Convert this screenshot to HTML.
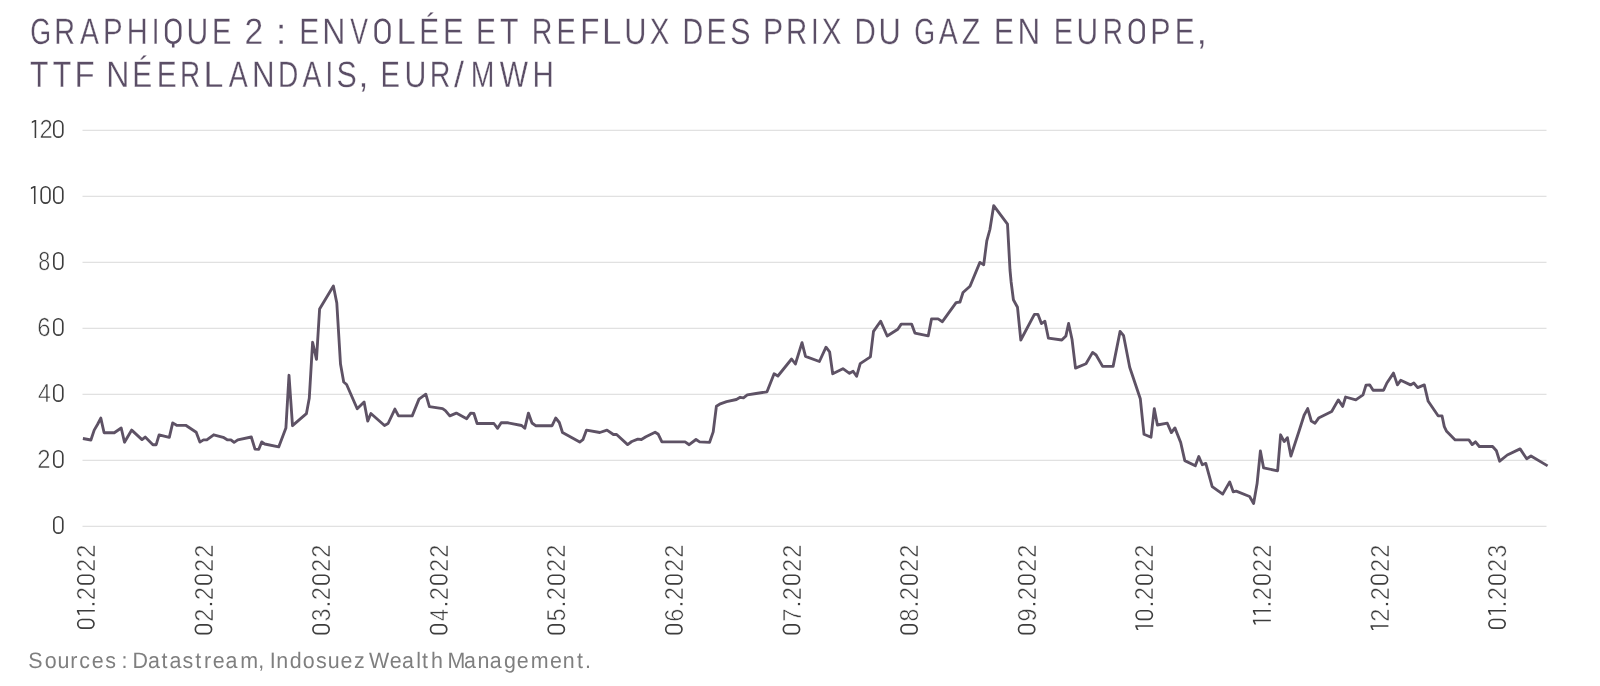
<!DOCTYPE html>
<html><head><meta charset="utf-8"><style>
html,body{margin:0;padding:0;background:#fff;}
svg{display:block;font-family:"Liberation Sans",sans-serif;text-rendering:geometricPrecision;will-change:transform;}
</style></head><body>
<svg width="1600" height="686" viewBox="0 0 1600 686">
<rect width="1600" height="686" fill="#fff"/>
<text transform="translate(30.25,43.7) scale(0.732,1)" font-size="36.6" fill="#5b4e66" stroke="#fff" stroke-width="0.3">G</text><text transform="translate(54.14,43.7) scale(0.787,1)" font-size="36.6" fill="#5b4e66" stroke="#fff" stroke-width="0.3">R</text><text transform="translate(80.04,43.7) scale(0.775,1)" font-size="36.6" fill="#5b4e66" stroke="#fff" stroke-width="0.3">A</text><text transform="translate(103.08,43.7) scale(0.806,1)" font-size="36.6" fill="#5b4e66" stroke="#fff" stroke-width="0.3">P</text><text transform="translate(126.72,43.7) scale(0.792,1)" font-size="36.6" fill="#5b4e66" stroke="#fff" stroke-width="0.3">H</text><text transform="translate(151.73,43.7) scale(0.762,1)" font-size="36.6" fill="#5b4e66" stroke="#fff" stroke-width="0.3">I</text><rect x="166.18" y="19.78" width="14.05" height="23.05" rx="7.02" ry="7.02" fill="none" stroke="#5b4e66" stroke-width="2.55"/><rect x="171.92" y="43.20" width="2.55" height="4.3" fill="#5b4e66"/><text transform="translate(186.58,43.7) scale(0.823,1)" font-size="36.6" fill="#5b4e66" stroke="#fff" stroke-width="0.3">U</text><text transform="translate(211.91,43.7) scale(0.796,1)" font-size="36.6" fill="#5b4e66" stroke="#fff" stroke-width="0.3">E</text><text transform="translate(244.51,43.7) scale(0.918,1)" font-size="36.6" fill="#5b4e66" stroke="#fff" stroke-width="0.3">2</text><text transform="translate(275.86,43.7) scale(1.050,1)" font-size="36.6" fill="#5b4e66" stroke="#fff" stroke-width="0.3">:</text><text transform="translate(299.35,43.7) scale(0.817,1)" font-size="36.6" fill="#5b4e66" stroke="#fff" stroke-width="0.3">E</text><text transform="translate(322.37,43.7) scale(0.876,1)" font-size="36.6" fill="#5b4e66" stroke="#fff" stroke-width="0.3">N</text><text transform="translate(350.28,43.7) scale(0.726,1)" font-size="36.6" fill="#5b4e66" stroke="#fff" stroke-width="0.3">V</text><rect x="375.67" y="19.78" width="13.65" height="23.05" rx="6.83" ry="6.83" fill="none" stroke="#5b4e66" stroke-width="2.55"/><text transform="translate(396.55,43.7) scale(0.948,1)" font-size="36.6" fill="#5b4e66" stroke="#fff" stroke-width="0.3">L</text><text transform="translate(419.16,43.7) scale(0.812,1)" font-size="36.6" fill="#5b4e66" stroke="#fff" stroke-width="0.3">É</text><text transform="translate(443.09,43.7) scale(0.837,1)" font-size="36.6" fill="#5b4e66" stroke="#fff" stroke-width="0.3">E</text><text transform="translate(475.95,43.7) scale(0.817,1)" font-size="36.6" fill="#5b4e66" stroke="#fff" stroke-width="0.3">E</text><text transform="translate(500.02,43.7) scale(0.826,1)" font-size="36.6" fill="#5b4e66" stroke="#fff" stroke-width="0.3">T</text><text transform="translate(531.65,43.7) scale(0.782,1)" font-size="36.6" fill="#5b4e66" stroke="#fff" stroke-width="0.3">R</text><text transform="translate(556.52,43.7) scale(0.791,1)" font-size="36.6" fill="#5b4e66" stroke="#fff" stroke-width="0.3">E</text><text transform="translate(580.33,43.7) scale(0.855,1)" font-size="36.6" fill="#5b4e66" stroke="#fff" stroke-width="0.3">F</text><text transform="translate(601.95,43.7) scale(0.948,1)" font-size="36.6" fill="#5b4e66" stroke="#fff" stroke-width="0.3">L</text><text transform="translate(624.32,43.7) scale(0.842,1)" font-size="36.6" fill="#5b4e66" stroke="#fff" stroke-width="0.3">U</text><text transform="translate(649.64,43.7) scale(0.806,1)" font-size="36.6" fill="#5b4e66" stroke="#fff" stroke-width="0.3">X</text><text transform="translate(682.55,43.7) scale(0.784,1)" font-size="36.6" fill="#5b4e66" stroke="#fff" stroke-width="0.3">D</text><text transform="translate(706.45,43.7) scale(0.817,1)" font-size="36.6" fill="#5b4e66" stroke="#fff" stroke-width="0.3">E</text><text transform="translate(730.32,43.7) scale(0.831,1)" font-size="36.6" fill="#5b4e66" stroke="#fff" stroke-width="0.3">S</text><text transform="translate(762.92,43.7) scale(0.827,1)" font-size="36.6" fill="#5b4e66" stroke="#fff" stroke-width="0.3">P</text><text transform="translate(786.08,43.7) scale(0.805,1)" font-size="36.6" fill="#5b4e66" stroke="#fff" stroke-width="0.3">R</text><text transform="translate(811.03,43.7) scale(0.762,1)" font-size="36.6" fill="#5b4e66" stroke="#fff" stroke-width="0.3">I</text><text transform="translate(821.64,43.7) scale(0.806,1)" font-size="36.6" fill="#5b4e66" stroke="#fff" stroke-width="0.3">X</text><text transform="translate(854.48,43.7) scale(0.807,1)" font-size="36.6" fill="#5b4e66" stroke="#fff" stroke-width="0.3">D</text><text transform="translate(878.52,43.7) scale(0.842,1)" font-size="36.6" fill="#5b4e66" stroke="#fff" stroke-width="0.3">U</text><text transform="translate(914.15,43.7) scale(0.732,1)" font-size="36.6" fill="#5b4e66" stroke="#fff" stroke-width="0.3">G</text><text transform="translate(938.64,43.7) scale(0.779,1)" font-size="36.6" fill="#5b4e66" stroke="#fff" stroke-width="0.3">A</text><text transform="translate(961.84,43.7) scale(0.828,1)" font-size="36.6" fill="#5b4e66" stroke="#fff" stroke-width="0.3">Z</text><text transform="translate(994.05,43.7) scale(0.817,1)" font-size="36.6" fill="#5b4e66" stroke="#fff" stroke-width="0.3">E</text><text transform="translate(1017.53,43.7) scale(0.856,1)" font-size="36.6" fill="#5b4e66" stroke="#fff" stroke-width="0.3">N</text><text transform="translate(1053.71,43.7) scale(0.796,1)" font-size="36.6" fill="#5b4e66" stroke="#fff" stroke-width="0.3">E</text><text transform="translate(1076.59,43.7) scale(0.818,1)" font-size="36.6" fill="#5b4e66" stroke="#fff" stroke-width="0.3">U</text><text transform="translate(1102.81,43.7) scale(0.764,1)" font-size="36.6" fill="#5b4e66" stroke="#fff" stroke-width="0.3">R</text><rect x="1129.98" y="19.78" width="13.65" height="23.05" rx="6.83" ry="6.83" fill="none" stroke="#5b4e66" stroke-width="2.55"/><text transform="translate(1150.30,43.7) scale(0.832,1)" font-size="36.6" fill="#5b4e66" stroke="#fff" stroke-width="0.3">P</text><text transform="translate(1174.86,43.7) scale(0.812,1)" font-size="36.6" fill="#5b4e66" stroke="#fff" stroke-width="0.3">E</text><text transform="translate(1196.41,43.7) scale(1.030,1)" font-size="36.6" fill="#5b4e66" stroke="#fff" stroke-width="0.3">,</text><text transform="translate(30.02,86.7) scale(0.821,1)" font-size="36.6" fill="#5b4e66" stroke="#fff" stroke-width="0.3">T</text><text transform="translate(52.72,86.7) scale(0.826,1)" font-size="36.6" fill="#5b4e66" stroke="#fff" stroke-width="0.3">T</text><text transform="translate(74.40,86.7) scale(0.900,1)" font-size="36.6" fill="#5b4e66" stroke="#fff" stroke-width="0.3">F</text><text transform="translate(106.37,86.7) scale(0.876,1)" font-size="36.6" fill="#5b4e66" stroke="#fff" stroke-width="0.3">N</text><text transform="translate(132.35,86.7) scale(0.817,1)" font-size="36.6" fill="#5b4e66" stroke="#fff" stroke-width="0.3">É</text><text transform="translate(156.75,86.7) scale(0.817,1)" font-size="36.6" fill="#5b4e66" stroke="#fff" stroke-width="0.3">E</text><text transform="translate(180.11,86.7) scale(0.764,1)" font-size="36.6" fill="#5b4e66" stroke="#fff" stroke-width="0.3">R</text><text transform="translate(203.46,86.7) scale(0.979,1)" font-size="36.6" fill="#5b4e66" stroke="#fff" stroke-width="0.3">L</text><text transform="translate(228.64,86.7) scale(0.779,1)" font-size="36.6" fill="#5b4e66" stroke="#fff" stroke-width="0.3">A</text><text transform="translate(251.93,86.7) scale(0.856,1)" font-size="36.6" fill="#5b4e66" stroke="#fff" stroke-width="0.3">N</text><text transform="translate(277.89,86.7) scale(0.770,1)" font-size="36.6" fill="#5b4e66" stroke="#fff" stroke-width="0.3">D</text><text transform="translate(302.54,86.7) scale(0.775,1)" font-size="36.6" fill="#5b4e66" stroke="#fff" stroke-width="0.3">A</text><text transform="translate(325.23,86.7) scale(0.791,1)" font-size="36.6" fill="#5b4e66" stroke="#fff" stroke-width="0.3">I</text><text transform="translate(336.62,86.7) scale(0.831,1)" font-size="36.6" fill="#5b4e66" stroke="#fff" stroke-width="0.3">S</text><text transform="translate(358.40,86.7) scale(0.974,1)" font-size="36.6" fill="#5b4e66" stroke="#fff" stroke-width="0.3">,</text><text transform="translate(380.61,86.7) scale(0.796,1)" font-size="36.6" fill="#5b4e66" stroke="#fff" stroke-width="0.3">E</text><text transform="translate(404.46,86.7) scale(0.828,1)" font-size="36.6" fill="#5b4e66" stroke="#fff" stroke-width="0.3">U</text><text transform="translate(429.65,86.7) scale(0.782,1)" font-size="36.6" fill="#5b4e66" stroke="#fff" stroke-width="0.3">R</text><text transform="translate(454.00,86.7) scale(0.983,1)" font-size="36.6" fill="#5b4e66" stroke="#fff" stroke-width="0.3">/</text><text transform="translate(470.67,86.7) scale(0.776,1)" font-size="36.6" fill="#5b4e66" stroke="#fff" stroke-width="0.3">M</text><text transform="translate(499.87,86.7) scale(0.817,1)" font-size="36.6" fill="#5b4e66" stroke="#fff" stroke-width="0.3">W</text><text transform="translate(532.58,86.7) scale(0.807,1)" font-size="36.6" fill="#5b4e66" stroke="#fff" stroke-width="0.3">H</text>
<rect x="82.5" y="129.75" width="1464" height="1.2" fill="#e0e0e0"/><rect x="82.5" y="195.75" width="1464" height="1.2" fill="#e0e0e0"/><rect x="82.5" y="261.75" width="1464" height="1.2" fill="#e0e0e0"/><rect x="82.5" y="327.75" width="1464" height="1.2" fill="#e0e0e0"/><rect x="82.5" y="393.75" width="1464" height="1.2" fill="#e0e0e0"/><rect x="82.5" y="459.75" width="1464" height="1.2" fill="#e0e0e0"/><rect x="82.5" y="525.75" width="1464" height="1.2" fill="#e0e0e0"/>
<polygon points="34.65,119.95 36.20,119.95 36.20,137.95 34.65,137.95 34.65,121.75 31.80,123.25 31.80,121.55" fill="#3d3d3d"/><text transform="translate(39.46,138.20) scale(0.912,1)" font-size="26.0" fill="#3d3d3d" stroke="#fff" stroke-width="0.5">2</text><rect x="53.83" y="120.77" width="8.95" height="16.35" rx="4.48" ry="4.48" fill="none" stroke="#3d3d3d" stroke-width="1.65"/><polygon points="33.95,185.95 35.50,185.95 35.50,203.95 33.95,203.95 33.95,187.75 30.90,189.25 30.90,187.55" fill="#3d3d3d"/><rect x="41.23" y="186.77" width="8.65" height="16.35" rx="4.33" ry="4.33" fill="none" stroke="#3d3d3d" stroke-width="1.65"/><rect x="53.83" y="186.77" width="8.95" height="16.35" rx="4.48" ry="4.48" fill="none" stroke="#3d3d3d" stroke-width="1.65"/><text transform="translate(38.31,270.20) scale(0.828,1)" font-size="26.0" fill="#3d3d3d" stroke="#fff" stroke-width="0.5">8</text><rect x="53.83" y="252.77" width="8.95" height="16.35" rx="4.48" ry="4.48" fill="none" stroke="#3d3d3d" stroke-width="1.65"/><text transform="translate(37.34,336.20) scale(0.917,1)" font-size="26.0" fill="#3d3d3d" stroke="#fff" stroke-width="0.5">6</text><rect x="53.83" y="318.77" width="8.95" height="16.35" rx="4.48" ry="4.48" fill="none" stroke="#3d3d3d" stroke-width="1.65"/><text transform="translate(38.02,402.20) scale(0.885,1)" font-size="26.0" fill="#3d3d3d" stroke="#fff" stroke-width="0.5">4</text><rect x="53.83" y="384.77" width="8.95" height="16.35" rx="4.48" ry="4.48" fill="none" stroke="#3d3d3d" stroke-width="1.65"/><text transform="translate(37.15,468.20) scale(0.920,1)" font-size="26.0" fill="#3d3d3d" stroke="#fff" stroke-width="0.5">2</text><rect x="53.83" y="450.77" width="8.95" height="16.35" rx="4.48" ry="4.48" fill="none" stroke="#3d3d3d" stroke-width="1.65"/><rect x="53.83" y="516.78" width="8.95" height="16.35" rx="4.48" ry="4.48" fill="none" stroke="#3d3d3d" stroke-width="1.65"/>
<g transform="translate(94.80,629.00) rotate(-90)"><rect x="0.82" y="-17.07" width="8.65" height="16.25" rx="4.33" ry="4.33" fill="none" stroke="#3d3d3d" stroke-width="1.65"/><polygon points="17.45,-17.90 19.00,-17.90 19.00,0.00 17.45,0.00 17.45,-16.10 14.20,-14.60 14.20,-16.30" fill="#3d3d3d"/><rect x="23.85" y="-2.5" width="2.2" height="2.2" fill="#3d3d3d"/><text transform="translate(28.66,0.25) scale(0.912,1)" font-size="26.0" fill="#3d3d3d" stroke="#fff" stroke-width="0.5">2</text><rect x="45.13" y="-17.07" width="8.65" height="16.25" rx="4.33" ry="4.33" fill="none" stroke="#3d3d3d" stroke-width="1.65"/><text transform="translate(57.06,0.25) scale(0.912,1)" font-size="26.0" fill="#3d3d3d" stroke="#fff" stroke-width="0.5">2</text><text transform="translate(71.26,0.25) scale(0.912,1)" font-size="26.0" fill="#3d3d3d" stroke="#fff" stroke-width="0.5">2</text></g><g transform="translate(212.40,634.40) rotate(-90)"><rect x="0.82" y="-17.07" width="8.65" height="16.25" rx="4.33" ry="4.33" fill="none" stroke="#3d3d3d" stroke-width="1.65"/><text transform="translate(12.76,0.25) scale(0.912,1)" font-size="26.0" fill="#3d3d3d" stroke="#fff" stroke-width="0.5">2</text><rect x="29.25" y="-2.5" width="2.2" height="2.2" fill="#3d3d3d"/><text transform="translate(34.06,0.25) scale(0.912,1)" font-size="26.0" fill="#3d3d3d" stroke="#fff" stroke-width="0.5">2</text><rect x="50.53" y="-17.07" width="8.65" height="16.25" rx="4.33" ry="4.33" fill="none" stroke="#3d3d3d" stroke-width="1.65"/><text transform="translate(62.46,0.25) scale(0.912,1)" font-size="26.0" fill="#3d3d3d" stroke="#fff" stroke-width="0.5">2</text><text transform="translate(76.66,0.25) scale(0.912,1)" font-size="26.0" fill="#3d3d3d" stroke="#fff" stroke-width="0.5">2</text></g><g transform="translate(330.00,634.40) rotate(-90)"><rect x="0.82" y="-17.07" width="8.65" height="16.25" rx="4.33" ry="4.33" fill="none" stroke="#3d3d3d" stroke-width="1.65"/><text transform="translate(13.08,0.25) scale(0.876,1)" font-size="26.0" fill="#3d3d3d" stroke="#fff" stroke-width="0.5">3</text><rect x="29.25" y="-2.5" width="2.2" height="2.2" fill="#3d3d3d"/><text transform="translate(34.06,0.25) scale(0.912,1)" font-size="26.0" fill="#3d3d3d" stroke="#fff" stroke-width="0.5">2</text><rect x="50.53" y="-17.07" width="8.65" height="16.25" rx="4.33" ry="4.33" fill="none" stroke="#3d3d3d" stroke-width="1.65"/><text transform="translate(62.46,0.25) scale(0.912,1)" font-size="26.0" fill="#3d3d3d" stroke="#fff" stroke-width="0.5">2</text><text transform="translate(76.66,0.25) scale(0.912,1)" font-size="26.0" fill="#3d3d3d" stroke="#fff" stroke-width="0.5">2</text></g><g transform="translate(447.60,634.40) rotate(-90)"><rect x="0.82" y="-17.07" width="8.65" height="16.25" rx="4.33" ry="4.33" fill="none" stroke="#3d3d3d" stroke-width="1.65"/><text transform="translate(13.46,0.25) scale(0.824,1)" font-size="26.0" fill="#3d3d3d" stroke="#fff" stroke-width="0.5">4</text><rect x="29.25" y="-2.5" width="2.2" height="2.2" fill="#3d3d3d"/><text transform="translate(34.06,0.25) scale(0.912,1)" font-size="26.0" fill="#3d3d3d" stroke="#fff" stroke-width="0.5">2</text><rect x="50.53" y="-17.07" width="8.65" height="16.25" rx="4.33" ry="4.33" fill="none" stroke="#3d3d3d" stroke-width="1.65"/><text transform="translate(62.46,0.25) scale(0.912,1)" font-size="26.0" fill="#3d3d3d" stroke="#fff" stroke-width="0.5">2</text><text transform="translate(76.66,0.25) scale(0.912,1)" font-size="26.0" fill="#3d3d3d" stroke="#fff" stroke-width="0.5">2</text></g><g transform="translate(565.20,634.40) rotate(-90)"><rect x="0.82" y="-17.07" width="8.65" height="16.25" rx="4.33" ry="4.33" fill="none" stroke="#3d3d3d" stroke-width="1.65"/><text transform="translate(13.04,0.25) scale(0.876,1)" font-size="26.0" fill="#3d3d3d" stroke="#fff" stroke-width="0.5">5</text><rect x="29.25" y="-2.5" width="2.2" height="2.2" fill="#3d3d3d"/><text transform="translate(34.06,0.25) scale(0.912,1)" font-size="26.0" fill="#3d3d3d" stroke="#fff" stroke-width="0.5">2</text><rect x="50.53" y="-17.07" width="8.65" height="16.25" rx="4.33" ry="4.33" fill="none" stroke="#3d3d3d" stroke-width="1.65"/><text transform="translate(62.46,0.25) scale(0.912,1)" font-size="26.0" fill="#3d3d3d" stroke="#fff" stroke-width="0.5">2</text><text transform="translate(76.66,0.25) scale(0.912,1)" font-size="26.0" fill="#3d3d3d" stroke="#fff" stroke-width="0.5">2</text></g><g transform="translate(682.80,634.40) rotate(-90)"><rect x="0.82" y="-17.07" width="8.65" height="16.25" rx="4.33" ry="4.33" fill="none" stroke="#3d3d3d" stroke-width="1.65"/><text transform="translate(12.76,0.25) scale(0.900,1)" font-size="26.0" fill="#3d3d3d" stroke="#fff" stroke-width="0.5">6</text><rect x="29.25" y="-2.5" width="2.2" height="2.2" fill="#3d3d3d"/><text transform="translate(34.06,0.25) scale(0.912,1)" font-size="26.0" fill="#3d3d3d" stroke="#fff" stroke-width="0.5">2</text><rect x="50.53" y="-17.07" width="8.65" height="16.25" rx="4.33" ry="4.33" fill="none" stroke="#3d3d3d" stroke-width="1.65"/><text transform="translate(62.46,0.25) scale(0.912,1)" font-size="26.0" fill="#3d3d3d" stroke="#fff" stroke-width="0.5">2</text><text transform="translate(76.66,0.25) scale(0.912,1)" font-size="26.0" fill="#3d3d3d" stroke="#fff" stroke-width="0.5">2</text></g><g transform="translate(800.40,634.40) rotate(-90)"><rect x="0.82" y="-17.07" width="8.65" height="16.25" rx="4.33" ry="4.33" fill="none" stroke="#3d3d3d" stroke-width="1.65"/><text transform="translate(12.73,0.25) scale(0.914,1)" font-size="26.0" fill="#3d3d3d" stroke="#fff" stroke-width="0.5">7</text><rect x="29.25" y="-2.5" width="2.2" height="2.2" fill="#3d3d3d"/><text transform="translate(34.06,0.25) scale(0.912,1)" font-size="26.0" fill="#3d3d3d" stroke="#fff" stroke-width="0.5">2</text><rect x="50.53" y="-17.07" width="8.65" height="16.25" rx="4.33" ry="4.33" fill="none" stroke="#3d3d3d" stroke-width="1.65"/><text transform="translate(62.46,0.25) scale(0.912,1)" font-size="26.0" fill="#3d3d3d" stroke="#fff" stroke-width="0.5">2</text><text transform="translate(76.66,0.25) scale(0.912,1)" font-size="26.0" fill="#3d3d3d" stroke="#fff" stroke-width="0.5">2</text></g><g transform="translate(918.00,634.40) rotate(-90)"><rect x="0.82" y="-17.07" width="8.65" height="16.25" rx="4.33" ry="4.33" fill="none" stroke="#3d3d3d" stroke-width="1.65"/><text transform="translate(12.95,0.25) scale(0.885,1)" font-size="26.0" fill="#3d3d3d" stroke="#fff" stroke-width="0.5">8</text><rect x="29.25" y="-2.5" width="2.2" height="2.2" fill="#3d3d3d"/><text transform="translate(34.06,0.25) scale(0.912,1)" font-size="26.0" fill="#3d3d3d" stroke="#fff" stroke-width="0.5">2</text><rect x="50.53" y="-17.07" width="8.65" height="16.25" rx="4.33" ry="4.33" fill="none" stroke="#3d3d3d" stroke-width="1.65"/><text transform="translate(62.46,0.25) scale(0.912,1)" font-size="26.0" fill="#3d3d3d" stroke="#fff" stroke-width="0.5">2</text><text transform="translate(76.66,0.25) scale(0.912,1)" font-size="26.0" fill="#3d3d3d" stroke="#fff" stroke-width="0.5">2</text></g><g transform="translate(1035.60,634.40) rotate(-90)"><rect x="0.82" y="-17.07" width="8.65" height="16.25" rx="4.33" ry="4.33" fill="none" stroke="#3d3d3d" stroke-width="1.65"/><text transform="translate(12.85,0.25) scale(0.899,1)" font-size="26.0" fill="#3d3d3d" stroke="#fff" stroke-width="0.5">9</text><rect x="29.25" y="-2.5" width="2.2" height="2.2" fill="#3d3d3d"/><text transform="translate(34.06,0.25) scale(0.912,1)" font-size="26.0" fill="#3d3d3d" stroke="#fff" stroke-width="0.5">2</text><rect x="50.53" y="-17.07" width="8.65" height="16.25" rx="4.33" ry="4.33" fill="none" stroke="#3d3d3d" stroke-width="1.65"/><text transform="translate(62.46,0.25) scale(0.912,1)" font-size="26.0" fill="#3d3d3d" stroke="#fff" stroke-width="0.5">2</text><text transform="translate(76.66,0.25) scale(0.912,1)" font-size="26.0" fill="#3d3d3d" stroke="#fff" stroke-width="0.5">2</text></g><g transform="translate(1153.20,630.00) rotate(-90)"><polygon points="3.25,-17.90 4.80,-17.90 4.80,0.00 3.25,0.00 3.25,-16.10 0.00,-14.60 0.00,-16.30" fill="#3d3d3d"/><rect x="10.62" y="-17.07" width="8.65" height="16.25" rx="4.33" ry="4.33" fill="none" stroke="#3d3d3d" stroke-width="1.65"/><rect x="24.85" y="-2.5" width="2.2" height="2.2" fill="#3d3d3d"/><text transform="translate(29.66,0.25) scale(0.912,1)" font-size="26.0" fill="#3d3d3d" stroke="#fff" stroke-width="0.5">2</text><rect x="46.13" y="-17.07" width="8.65" height="16.25" rx="4.33" ry="4.33" fill="none" stroke="#3d3d3d" stroke-width="1.65"/><text transform="translate(58.06,0.25) scale(0.912,1)" font-size="26.0" fill="#3d3d3d" stroke="#fff" stroke-width="0.5">2</text><text transform="translate(72.26,0.25) scale(0.912,1)" font-size="26.0" fill="#3d3d3d" stroke="#fff" stroke-width="0.5">2</text></g><g transform="translate(1270.80,624.60) rotate(-90)"><polygon points="3.25,-17.90 4.80,-17.90 4.80,0.00 3.25,0.00 3.25,-16.10 0.00,-14.60 0.00,-16.30" fill="#3d3d3d"/><polygon points="13.05,-17.90 14.60,-17.90 14.60,0.00 13.05,0.00 13.05,-16.10 9.80,-14.60 9.80,-16.30" fill="#3d3d3d"/><rect x="19.45" y="-2.5" width="2.2" height="2.2" fill="#3d3d3d"/><text transform="translate(24.26,0.25) scale(0.912,1)" font-size="26.0" fill="#3d3d3d" stroke="#fff" stroke-width="0.5">2</text><rect x="40.73" y="-17.07" width="8.65" height="16.25" rx="4.33" ry="4.33" fill="none" stroke="#3d3d3d" stroke-width="1.65"/><text transform="translate(52.66,0.25) scale(0.912,1)" font-size="26.0" fill="#3d3d3d" stroke="#fff" stroke-width="0.5">2</text><text transform="translate(66.86,0.25) scale(0.912,1)" font-size="26.0" fill="#3d3d3d" stroke="#fff" stroke-width="0.5">2</text></g><g transform="translate(1388.40,630.00) rotate(-90)"><polygon points="3.25,-17.90 4.80,-17.90 4.80,0.00 3.25,0.00 3.25,-16.10 0.00,-14.60 0.00,-16.30" fill="#3d3d3d"/><text transform="translate(8.36,0.25) scale(0.912,1)" font-size="26.0" fill="#3d3d3d" stroke="#fff" stroke-width="0.5">2</text><rect x="24.85" y="-2.5" width="2.2" height="2.2" fill="#3d3d3d"/><text transform="translate(29.66,0.25) scale(0.912,1)" font-size="26.0" fill="#3d3d3d" stroke="#fff" stroke-width="0.5">2</text><rect x="46.13" y="-17.07" width="8.65" height="16.25" rx="4.33" ry="4.33" fill="none" stroke="#3d3d3d" stroke-width="1.65"/><text transform="translate(58.06,0.25) scale(0.912,1)" font-size="26.0" fill="#3d3d3d" stroke="#fff" stroke-width="0.5">2</text><text transform="translate(72.26,0.25) scale(0.912,1)" font-size="26.0" fill="#3d3d3d" stroke="#fff" stroke-width="0.5">2</text></g><g transform="translate(1506.00,629.00) rotate(-90)"><rect x="0.82" y="-17.07" width="8.65" height="16.25" rx="4.33" ry="4.33" fill="none" stroke="#3d3d3d" stroke-width="1.65"/><polygon points="17.45,-17.90 19.00,-17.90 19.00,0.00 17.45,0.00 17.45,-16.10 14.20,-14.60 14.20,-16.30" fill="#3d3d3d"/><rect x="23.85" y="-2.5" width="2.2" height="2.2" fill="#3d3d3d"/><text transform="translate(28.66,0.25) scale(0.912,1)" font-size="26.0" fill="#3d3d3d" stroke="#fff" stroke-width="0.5">2</text><rect x="45.13" y="-17.07" width="8.65" height="16.25" rx="4.33" ry="4.33" fill="none" stroke="#3d3d3d" stroke-width="1.65"/><text transform="translate(57.06,0.25) scale(0.912,1)" font-size="26.0" fill="#3d3d3d" stroke="#fff" stroke-width="0.5">2</text><text transform="translate(71.58,0.25) scale(0.876,1)" font-size="26.0" fill="#3d3d3d" stroke="#fff" stroke-width="0.5">3</text></g>
<polyline points="82.9,438.5 90.9,440.0 94.2,430.1 97.5,424.5 100.8,418.1 104.1,432.7 114.3,432.7 121.2,428.0 124.5,442.2 131.7,430.1 142.0,439.6 145.2,437.1 152.9,444.7 156.2,444.7 159.1,434.9 169.3,437.4 172.7,422.9 176.6,425.3 185.7,425.3 196.2,432.2 199.9,442.1 203.5,439.9 206.8,439.9 213.7,434.8 223.2,437.3 227.6,439.9 230.9,439.9 234.1,442.4 237.8,439.9 251.3,437.0 255.0,449.2 258.8,449.3 261.7,441.9 264.7,444.0 278.7,446.9 285.9,428.1 289.0,375.3 292.5,425.7 306.4,413.7 309.3,398.0 312.6,342.3 316.5,359.4 319.6,309.0 333.4,286.0 336.8,303.0 340.5,364.0 343.7,382.0 346.6,384.5 357.2,408.7 364.1,401.9 367.7,421.1 370.9,413.5 384.5,425.5 388.1,423.5 394.9,409.1 398.5,415.9 412.2,415.9 419.0,399.1 425.8,394.2 429.4,406.7 442.6,408.7 445.4,410.7 449.8,415.9 456.3,413.1 466.7,418.7 470.7,413.1 473.9,413.5 477.1,423.5 493.9,423.5 497.6,428.3 501.2,422.7 507.2,422.7 521.6,425.5 524.8,428.3 528.4,413.1 532.0,423.0 535.6,425.7 552.1,425.7 555.7,418.0 559.3,422.5 562.5,432.5 579.7,442.1 582.9,439.7 586.5,430.1 599.8,432.5 607.0,430.1 613.4,434.5 616.6,434.5 627.6,444.6 631.8,441.5 637.8,439.1 641.4,439.5 645.9,436.7 655.1,432.3 658.3,434.3 661.9,441.9 685.1,441.9 689.2,444.7 696.0,439.5 699.6,441.9 709.6,442.3 713.2,431.9 716.4,406.2 719.6,404.2 726.6,401.7 736.4,399.5 740.2,397.3 743.5,397.8 747.3,394.9 756.1,393.5 767.0,391.8 774.1,373.8 777.9,376.0 791.6,359.0 795.4,364.0 802.0,342.7 805.5,356.4 819.4,361.5 826.0,347.2 829.6,351.8 832.7,373.8 842.9,368.7 849.5,373.3 853.1,371.2 856.6,376.3 860.2,363.6 870.4,356.9 873.5,331.4 880.6,321.2 887.2,336.0 897.8,329.3 901.2,324.1 911.6,324.1 914.9,333.1 928.2,335.9 931.5,318.9 938.1,318.9 942.4,321.7 956.1,302.7 960.0,302.0 963.0,292.5 970.0,286.2 979.9,262.4 983.7,264.7 986.8,240.9 989.9,229.5 993.7,205.7 1007.5,224.1 1010.0,270.0 1011.1,281.7 1013.4,299.7 1017.5,307.3 1020.8,340.0 1034.4,314.3 1037.9,314.3 1041.4,323.6 1044.9,321.3 1048.4,338.2 1061.8,340.0 1065.9,335.9 1068.6,323.5 1072.0,339.2 1075.5,368.1 1086.0,363.7 1092.6,352.4 1096.1,355.0 1102.6,366.4 1113.1,366.4 1120.1,331.4 1123.6,335.7 1129.7,367.2 1140.3,398.7 1144.0,434.3 1151.0,437.2 1154.3,408.7 1157.4,425.0 1167.3,423.2 1171.4,432.6 1174.9,427.9 1180.7,442.5 1184.8,460.6 1195.3,465.8 1198.8,456.5 1202.3,464.8 1205.8,463.4 1212.2,486.6 1222.7,494.1 1229.7,481.9 1233.2,491.8 1236.2,491.2 1249.6,496.5 1253.6,503.5 1257.1,483.6 1260.4,451.0 1263.6,467.9 1277.6,470.8 1280.6,434.8 1284.2,441.6 1287.4,437.7 1290.9,456.0 1299.0,431.2 1304.1,415.2 1307.7,408.6 1311.3,421.0 1315.0,423.2 1318.6,418.1 1331.7,411.5 1338.3,399.9 1342.7,406.4 1345.6,397.0 1355.8,399.9 1363.0,394.8 1366.0,385.1 1369.8,384.9 1373.1,390.2 1383.6,390.2 1386.9,383.0 1393.5,373.1 1397.4,384.9 1400.7,380.3 1410.5,384.9 1413.8,383.0 1417.7,387.6 1424.3,384.9 1428.2,401.3 1438.1,415.8 1442.0,415.8 1444.3,426.6 1446.6,431.3 1455.2,439.9 1468.9,439.9 1472.2,444.6 1475.5,441.8 1479.3,446.5 1492.6,446.5 1496.4,450.8 1499.7,461.2 1507.3,455.0 1520.1,448.9 1526.7,458.8 1531.0,456.0 1547.6,465.9" fill="none" stroke="#5e5265" stroke-width="2.85" stroke-linejoin="round" stroke-linecap="butt"/>
<text transform="translate(28.37,667.9) scale(0.960,1)" font-size="22.3" fill="#7f7f7f">S</text><text transform="translate(44.65,667.9) scale(0.960,1)" font-size="22.3" fill="#7f7f7f">o</text><text transform="translate(57.56,667.9) scale(0.960,1)" font-size="22.3" fill="#7f7f7f">u</text><text transform="translate(70.35,667.9) scale(0.960,1)" font-size="22.3" fill="#7f7f7f">r</text><text transform="translate(79.23,667.9) scale(0.960,1)" font-size="22.3" fill="#7f7f7f">c</text><text transform="translate(91.67,667.9) scale(0.960,1)" font-size="22.3" fill="#7f7f7f">e</text><text transform="translate(105.29,667.9) scale(0.960,1)" font-size="22.3" fill="#7f7f7f">s</text><text transform="translate(121.53,667.9) scale(0.960,1)" font-size="22.3" fill="#7f7f7f">:</text><text transform="translate(132.60,667.9) scale(0.960,1)" font-size="22.3" fill="#7f7f7f">D</text><text transform="translate(147.89,667.9) scale(0.960,1)" font-size="22.3" fill="#7f7f7f">a</text><text transform="translate(161.54,667.9) scale(0.960,1)" font-size="22.3" fill="#7f7f7f">t</text><text transform="translate(169.39,667.9) scale(0.960,1)" font-size="22.3" fill="#7f7f7f">a</text><text transform="translate(182.54,667.9) scale(0.960,1)" font-size="22.3" fill="#7f7f7f">s</text><text transform="translate(195.24,667.9) scale(0.960,1)" font-size="22.3" fill="#7f7f7f">t</text><text transform="translate(204.05,667.9) scale(0.960,1)" font-size="22.3" fill="#7f7f7f">r</text><text transform="translate(212.72,667.9) scale(0.960,1)" font-size="22.3" fill="#7f7f7f">e</text><text transform="translate(225.59,667.9) scale(0.960,1)" font-size="22.3" fill="#7f7f7f">a</text><text transform="translate(240.13,667.9) scale(0.960,1)" font-size="22.3" fill="#7f7f7f">m</text><text transform="translate(258.33,667.9) scale(0.960,1)" font-size="22.3" fill="#7f7f7f">,</text><text transform="translate(269.73,667.9) scale(0.960,1)" font-size="22.3" fill="#7f7f7f">I</text><text transform="translate(276.33,667.9) scale(0.960,1)" font-size="22.3" fill="#7f7f7f">n</text><text transform="translate(289.79,667.9) scale(0.960,1)" font-size="22.3" fill="#7f7f7f">d</text><text transform="translate(302.85,667.9) scale(0.960,1)" font-size="22.3" fill="#7f7f7f">o</text><text transform="translate(316.04,667.9) scale(0.960,1)" font-size="22.3" fill="#7f7f7f">s</text><text transform="translate(327.81,667.9) scale(0.960,1)" font-size="22.3" fill="#7f7f7f">u</text><text transform="translate(340.57,667.9) scale(0.960,1)" font-size="22.3" fill="#7f7f7f">e</text><text transform="translate(353.90,667.9) scale(0.960,1)" font-size="22.3" fill="#7f7f7f">z</text><text transform="translate(368.94,667.9) scale(0.960,1)" font-size="22.3" fill="#7f7f7f">W</text><text transform="translate(389.72,667.9) scale(0.960,1)" font-size="22.3" fill="#7f7f7f">e</text><text transform="translate(401.94,667.9) scale(0.960,1)" font-size="22.3" fill="#7f7f7f">a</text><text transform="translate(416.22,667.9) scale(0.960,1)" font-size="22.3" fill="#7f7f7f">l</text><text transform="translate(422.04,667.9) scale(0.960,1)" font-size="22.3" fill="#7f7f7f">t</text><text transform="translate(431.10,667.9) scale(0.960,1)" font-size="22.3" fill="#7f7f7f">h</text><text transform="translate(447.43,667.9) scale(0.960,1)" font-size="22.3" fill="#7f7f7f">M</text><text transform="translate(463.94,667.9) scale(0.960,1)" font-size="22.3" fill="#7f7f7f">a</text><text transform="translate(477.48,667.9) scale(0.960,1)" font-size="22.3" fill="#7f7f7f">n</text><text transform="translate(489.79,667.9) scale(0.960,1)" font-size="22.3" fill="#7f7f7f">a</text><text transform="translate(503.94,667.9) scale(0.960,1)" font-size="22.3" fill="#7f7f7f">g</text><text transform="translate(516.67,667.9) scale(0.960,1)" font-size="22.3" fill="#7f7f7f">e</text><text transform="translate(530.83,667.9) scale(0.960,1)" font-size="22.3" fill="#7f7f7f">m</text><text transform="translate(549.92,667.9) scale(0.960,1)" font-size="22.3" fill="#7f7f7f">e</text><text transform="translate(562.83,667.9) scale(0.960,1)" font-size="22.3" fill="#7f7f7f">n</text><text transform="translate(576.89,667.9) scale(0.960,1)" font-size="22.3" fill="#7f7f7f">t</text><text transform="translate(584.88,667.9) scale(0.960,1)" font-size="22.3" fill="#7f7f7f">.</text>
</svg>
</body></html>
